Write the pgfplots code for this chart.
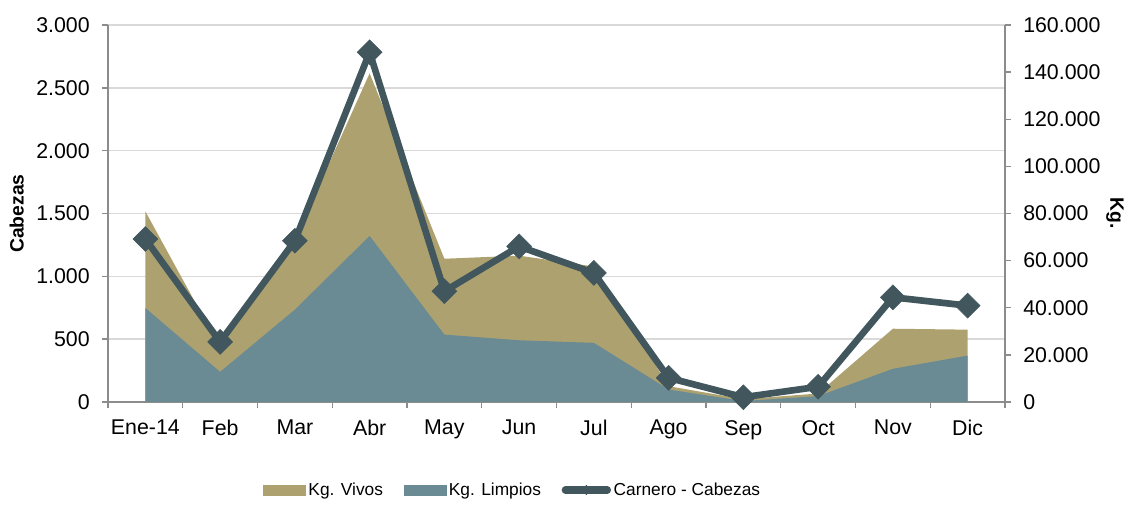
\documentclass[border=0pt]{standalone}
\usepackage{fontspec}
\setmainfont{Liberation Sans}
\usepackage{pgfplots}
\pgfplotsset{compat=1.18}
\usetikzlibrary{calc}
\definecolor{vivos}{HTML}{ADA26F}
\definecolor{limpios}{HTML}{6A8A94}
\definecolor{linec}{HTML}{41575D}
\definecolor{gridc}{HTML}{D9D9D9}
\definecolor{axc}{HTML}{8C8C8C}
\pgfplotsset{
  base/.style={
    width=672.75pt, height=282.75pt, scale only axis,
    xmin=-0.5, xmax=11.5,
    /pgf/number format/assume math mode=true,
    /pgf/number format/fixed,
    /pgf/number format/1000 sep={.},
    scaled y ticks=false,
    tick label style={font=\fontsize{16}{19}\selectfont, inner sep=0pt},
    yticklabel style={/pgf/number format/fixed, /pgf/number format/1000 sep={.}},
    tick align=outside,
    major tick length=4.5pt, minor tick length=4.5pt,
    tick style={axc, line width=1.1pt},
    axis line style={axc, line width=1.1pt},
  },
}
\begin{document}
\begin{tikzpicture}
% left axis with grid and x axis
\begin{axis}[base,
  ymin=0, ymax=3000, ytick={0,500,...,3000},
  axis y line*=left, axis x line*=bottom,
  every outer x axis line/.append style={-},
  every outer y axis line/.append style={-},
  every inner x axis line/.append style={-},
  every inner y axis line/.append style={-},
  ymajorgrids, grid style={gridc, line width=1.1pt},
  xtick={0,...,11},
  xticklabels={Ene-14,Feb,Mar,Abr,May,Jun,Jul,Ago,Sep,Oct,Nov,Dic},
  major x tick style={draw=none},
  minor xtick={-0.5,0.5,...,11.5},
  xticklabel style={yshift=-9pt},
  yticklabel style={xshift=-9pt},
  ylabel={\bfseries Cabezas},
  ylabel style={font=\fontsize{14.5}{17}\selectfont, at={($(rel axis cs:0,0.5)+(-68.5pt,0)$)}, anchor=center, rotate=0},
]
\coordinate (O) at (rel axis cs:0,0);
\end{axis}
% right axis with areas
\begin{axis}[base,
  ymin=0, ymax=160000, ytick={0,20000,...,160000},
  axis y line*=right, axis x line=none,
  every outer y axis line/.append style={-},
  every inner y axis line/.append style={-},
  yticklabel style={xshift=9pt},
  ylabel={\bfseries Kg.},
  ylabel style={font=\fontsize{14.5}{17}\selectfont, at={($(rel axis cs:1,0.5)+(82.5pt,0)$)}, anchor=center, rotate=-180},
]
\addplot[fill=vivos, draw=none] coordinates {
(0,80900) (1,23000) (2,69000) (3,139500) (4,60800) (5,62100)
(6,57500) (7,6700) (8,1200) (9,3600) (10,31100) (11,30700)} \closedcycle;
\addplot[fill=limpios, draw=none] coordinates {
(0,39900) (1,12800) (2,39200) (3,70500) (4,28600) (5,26200)
(6,25100) (7,5300) (8,400) (9,2500) (10,14100) (11,19700)} \closedcycle;
\end{axis}
% line axis
\begin{axis}[base,
  ymin=0, ymax=3000, axis lines=none,
  legend style={at={(0.1728,-0.2334)}, anchor=west, draw=none, inner sep=0pt,
    font=\fontsize{13}{15}\selectfont, legend columns=3,
    /tikz/every even column/.append style={column sep=13.5pt}},
  legend cell align=left,
]
\addlegendimage{legend image code/.code={\fill[vivos] (0pt,-3.75pt) rectangle (31.5pt,3.75pt);}}
\addlegendentry{Kg. Vivos}
\addlegendimage{legend image code/.code={\fill[limpios] (0pt,-3.75pt) rectangle (31.5pt,3.75pt);}}
\addlegendentry{Kg. Limpios}
\addlegendimage{legend image code/.code={\draw[linec, line width=5.5pt, line cap=round] (0pt,0pt) -- (31.5pt,0pt);
  \fill[linec] (15.75pt,3.5pt) -- (19.25pt,0pt) -- (15.75pt,-3.5pt) -- (12.25pt,0pt) -- cycle;}}
\addlegendentry{Carnero - Cabezas}
\addplot[linec, line width=5pt, mark=square*, mark size=6.6pt,
  mark options={rotate=45, fill=linec, line width=0.4pt, solid}, forget plot] coordinates {
(0,1297) (1,478) (2,1283) (3,2783) (4,881) (5,1238)
(6,1027) (7,192) (8,38) (9,121) (10,833) (11,767)};
\end{axis}
\pgfresetboundingbox
\path (O) ++(-81pt,-87pt) rectangle ++(846.75pt,388.5pt);
\end{tikzpicture}
\end{document}
